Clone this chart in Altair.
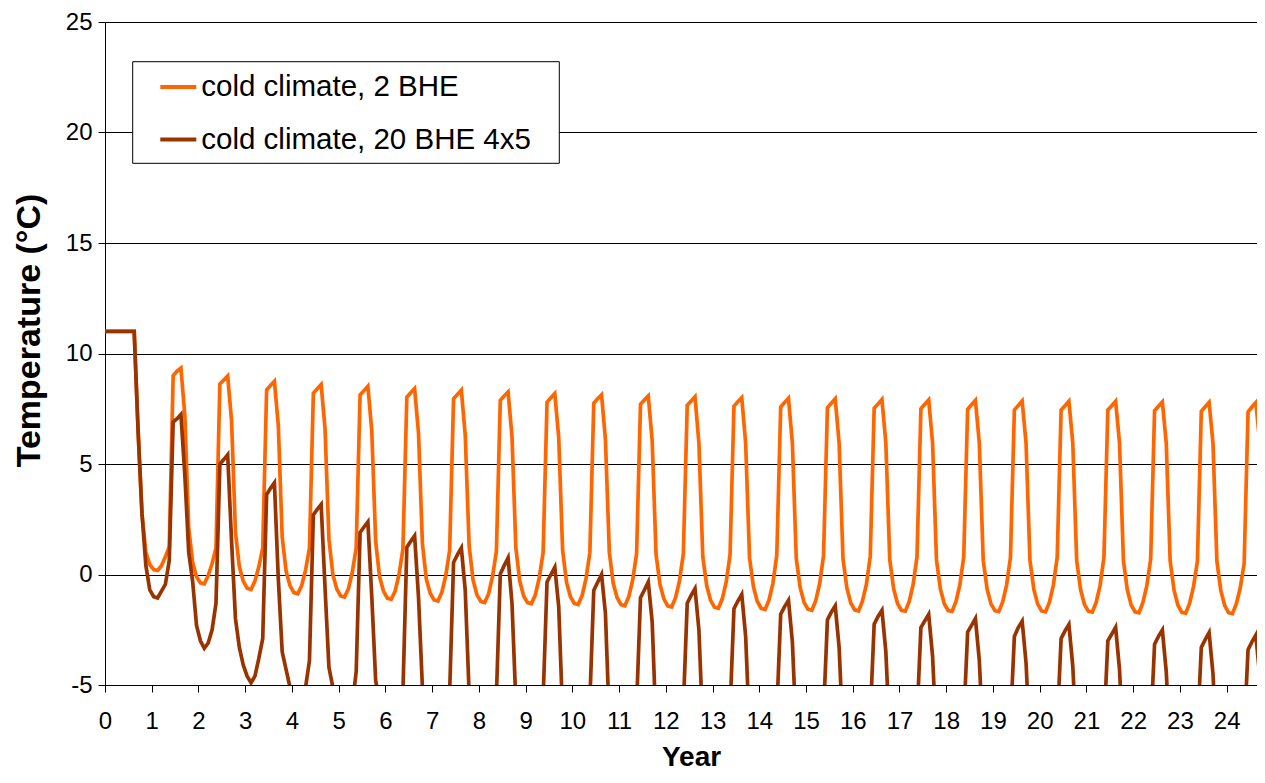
import altair as alt
import pandas as pd

ORANGE_LABEL = "cold climate, 2 BHE"
BROWN_LABEL = "cold climate, 20 BHE 4x5"
ORANGE = "#FF6600"
BROWN = "#993300"

START_VALUE = 11.0
X_MAX = 24.65
X_TICKS = list(range(25))
Y_TICKS = [-5, 0, 5, 10, 15, 20, 25]

# Monthly values (12 per year, mid-month)
orange_rows = [
    [11, 11, 11, 11, 11, 11, 11, 11, 6.5, 2.74, 1.0, 0.45],
    [0.22, 0.18, 0.4, 0.8, 1.25, 9.0, 9.2, 9.34, 7.2, 2.1, 0.55, -0.1],
    [-0.38, -0.42, -0.05, 0.5, 1.2, 8.62, 8.8, 8.98, 6.95, 1.9, 0.35, -0.3],
    [-0.62, -0.68, -0.3, 0.35, 1.2, 8.35, 8.55, 8.74, 6.75, 1.7, 0.15, -0.5],
    [-0.82, -0.87, -0.5, 0.2, 1.2, 8.2, 8.4, 8.59, 6.6, 1.6, 0.0, -0.65],
    [-0.97, -1.02, -0.65, 0.1, 1.2, 8.12, 8.32, 8.52, 6.5, 1.5, -0.1, -0.75],
    [-1.07, -1.12, -0.75, 0.0, 1.15, 8.02, 8.22, 8.41, 6.4, 1.4, -0.2, -0.85],
    [-1.15, -1.2, -0.8, -0.05, 1.1, 7.95, 8.15, 8.34, 6.3, 1.3, -0.25, -0.92],
    [-1.22, -1.27, -0.87, -0.1, 1.05, 7.88, 8.08, 8.26, 6.25, 1.2, -0.3, -0.97],
    [-1.27, -1.32, -0.92, -0.15, 1.0, 7.8, 8.0, 8.19, 6.2, 1.1, -0.35, -1.0],
    [-1.31, -1.36, -0.96, -0.2, 1.0, 7.75, 7.95, 8.13, 6.1, 1.0, -0.4, -1.05],
    [-1.36, -1.41, -1.0, -0.25, 0.95, 7.7, 7.9, 8.08, 6.05, 0.9, -0.45, -1.1],
    [-1.42, -1.47, -1.05, -0.3, 0.93, 7.66, 7.85, 8.04, 5.95, 0.8, -0.5, -1.17],
    [-1.48, -1.53, -1.1, -0.35, 0.9, 7.62, 7.82, 8.0, 5.95, 0.75, -0.55, -1.22],
    [-1.53, -1.58, -1.15, -0.4, 0.88, 7.58, 7.78, 7.97, 5.95, 0.72, -0.6, -1.26],
    [-1.57, -1.62, -1.18, -0.42, 0.85, 7.55, 7.75, 7.95, 5.95, 0.7, -0.62, -1.29],
    [-1.6, -1.65, -1.2, -0.45, 0.83, 7.52, 7.72, 7.92, 5.95, 0.68, -0.64, -1.31],
    [-1.62, -1.66, -1.22, -0.46, 0.8, 7.5, 7.7, 7.9, 5.95, 0.66, -0.65, -1.32],
    [-1.63, -1.67, -1.23, -0.47, 0.8, 7.48, 7.68, 7.88, 5.95, 0.65, -0.66, -1.33],
    [-1.64, -1.68, -1.24, -0.48, 0.78, 7.45, 7.65, 7.85, 5.95, 0.64, -0.67, -1.34],
    [-1.65, -1.69, -1.25, -0.49, 0.78, 7.44, 7.64, 7.84, 5.95, 0.63, -0.68, -1.36],
    [-1.66, -1.70, -1.26, -0.5, 0.78, 7.44, 7.64, 7.84, 5.95, 0.63, -0.7, -1.38],
    [-1.69, -1.73, -1.28, -0.52, 0.7, 7.41, 7.61, 7.81, 5.95, 0.62, -0.71, -1.39],
    [-1.71, -1.75, -1.3, -0.55, 0.6, 7.39, 7.59, 7.79, 5.95, 0.61, -0.72, -1.4],
    [-1.73, -1.77, -1.32, -0.6, 0.5, 7.36, 7.58, 7.78, 6.0, 0.6],
]

brown_rows = [
    [11, 11, 11, 11, 11, 11, 11, 11, 6.5, 2.74, 0.4, -0.7],
    [-1.0, -1.06, -0.75, -0.45, 0.63, 6.9, 7.05, 7.24, 4.5, 1.0, -0.3, -2.3],
    [-3.0, -3.34, -3.1, -2.5, -1.3, 5.0, 5.2, 5.42, 1.5, -2.0, -3.3, -4.1],
    [-4.6, -4.9, -4.6, -3.8, -2.9, 3.62, 3.9, 4.15, -0.2, -3.5, -4.3, -5.1],
    [-5.8, -6.1, -6.0, -5.1, -3.9, 2.7, 2.95, 3.17, -0.6, -4.2, -5.1, -5.9],
    [-6.6, -7.0, -6.8, -5.9, -4.4, 1.9, 2.15, 2.38, -1.0, -4.8, -5.8, -6.5],
    [-7.0, -7.4, -7.2, -6.4, -5.3, 1.23, 1.5, 1.75, -1.02, -5.1, -6.3, -7.0],
    [-7.5, -7.8, -7.6, -6.8, -5.3, 0.55, 0.9, 1.2, -0.72, -5.4, -6.6, -7.3],
    [-7.8, -8.1, -7.9, -7.1, -5.5, 0.03, 0.4, 0.75, -1.3, -5.8, -6.9, -7.6],
    [-8.1, -8.4, -8.2, -7.4, -5.6, -0.34, 0.0, 0.33, -1.45, -6.3, -7.2, -7.9],
    [-8.3, -8.6, -8.4, -7.6, -5.7, -0.72, -0.35, 0.0, -1.77, -6.7, -7.5, -8.1],
    [-8.5, -8.8, -8.6, -7.8, -5.9, -1.05, -0.7, -0.34, -2.15, -6.9, -7.7, -8.3],
    [-8.7, -9.0, -8.8, -8.0, -6.0, -1.3, -0.95, -0.64, -2.5, -7.0, -7.9, -8.5],
    [-8.9, -9.2, -9.0, -8.2, -6.1, -1.55, -1.2, -0.9, -2.8, -7.1, -8.0, -8.6],
    [-9.0, -9.3, -9.1, -8.3, -6.2, -1.8, -1.45, -1.17, -3.05, -7.2, -8.1, -8.7],
    [-9.1, -9.4, -9.2, -8.4, -6.3, -2.05, -1.7, -1.42, -3.3, -7.3, -8.2, -8.8],
    [-9.2, -9.5, -9.3, -8.5, -6.4, -2.25, -1.9, -1.62, -3.5, -7.4, -8.3, -8.9],
    [-9.3, -9.6, -9.4, -8.6, -6.5, -2.4, -2.1, -1.8, -3.7, -7.5, -8.4, -9.0],
    [-9.4, -9.7, -9.5, -8.7, -6.6, -2.6, -2.3, -1.99, -3.9, -7.6, -8.5, -9.1],
    [-9.5, -9.8, -9.6, -8.8, -6.7, -2.8, -2.4, -2.11, -4.0, -7.7, -8.6, -9.2],
    [-9.6, -9.9, -9.7, -8.9, -6.8, -2.9, -2.55, -2.26, -4.15, -7.8, -8.7, -9.3],
    [-9.7, -10.0, -9.8, -9.0, -6.9, -3.0, -2.7, -2.39, -4.3, -7.9, -8.8, -9.4],
    [-9.8, -10.1, -9.9, -9.1, -7.0, -3.15, -2.8, -2.51, -4.4, -8.0, -8.9, -9.5],
    [-9.9, -10.2, -10.0, -9.2, -7.1, -3.3, -2.95, -2.63, -4.5, -8.1, -9.0, -9.6],
    [-10.0, -10.3, -10.1, -9.3, -7.2, -3.4, -3.05, -2.74, -4.6, -8.2],
]


def build(rows, label):
    xs = [0.0]
    ys = [START_VALUE]
    i = 0
    for row in rows:
        for v in row:
            xs.append((i + 0.5) / 12.0)
            ys.append(v)
            i += 1
    return pd.DataFrame({"year": xs, "temp": ys, "series": label})


df_orange = build(orange_rows, ORANGE_LABEL)
df_brown = build(brown_rows, BROWN_LABEL)

PLOT_W = 1152
PLOT_H = 663

x_enc = alt.X(
    "year:Q",
    scale=alt.Scale(domain=[0, X_MAX], nice=False, zero=False),
    axis=alt.Axis(
        values=X_TICKS, title="Year", grid=False, tickSize=7, tickColor="black",
        domainColor="black", labelFontSize=24, labelPadding=17, labelColor="black",
        labelFlush=False, labelOverlap=False, labelExpr="'' + datum.value",
        titleFontSize=28, titleFontWeight="bold", titleColor="black",
        titleX=586, titleY=72, titleBaseline="middle", titleAlign="center",
    ),
)
y_enc = alt.Y(
    "temp:Q",
    scale=alt.Scale(domain=[-5, 25], nice=False, zero=False),
    axis=alt.Axis(
        values=Y_TICKS, title="Temperature (°C)", grid=True, gridColor="black",
        gridWidth=1, gridOpacity=1, tickSize=7, tickColor="black",
        domainColor="black", labelFontSize=24, labelPadding=6, labelColor="black",
        labelFlush=False, labelOverlap=False, labelExpr="'' + datum.value",
        titleFontSize=34, titleFontWeight="bold", titleColor="black",
        titleX=-76, titleY=308, titleBaseline="middle", titleAlign="center",
    ),
)

legend = alt.Legend(
    orient="none", legendX=53.3, legendY=44.9, title=None,
    symbolType="stroke", symbolSize=1296, symbolStrokeWidth=4,
    labelFontSize=29.5, labelOffset=3, labelColor="black", labelLimit=1000,
    rowPadding=17.6, padding=0,
)
color_enc = alt.Color(
    "series:N",
    scale=alt.Scale(domain=[ORANGE_LABEL, BROWN_LABEL], range=[ORANGE, BROWN]),
    legend=legend,
)

line_o = alt.Chart(df_orange).mark_line(strokeWidth=3.7, clip=True).encode(
    x=x_enc, y=y_enc, color=color_enc
)
line_b = alt.Chart(df_brown).mark_line(strokeWidth=3.7, clip=True).encode(
    x=x_enc, y=y_enc, color=color_enc
)

# legend frame (decoration, in pixels of the plot area)
legend_box = alt.Chart(pd.DataFrame({"k": [0]})).mark_rect(
    fill="white", stroke="black", strokeWidth=1
).encode(
    x=alt.value(27.7), x2=alt.value(454.3), y=alt.value(39.7), y2=alt.value(141.3)
)

chart = (
    alt.layer(legend_box, line_o, line_b)
    .properties(
        width=PLOT_W, height=PLOT_H,
        autosize=alt.AutoSizeParams(type="none"),
        padding={"left": 97, "top": 14, "right": 0, "bottom": 90},
    )
    .configure(font="Liberation Sans")
    .configure_view(stroke=None)
)

chart.save("out.html", embed_options={"renderer": "svg", "actions": False})
